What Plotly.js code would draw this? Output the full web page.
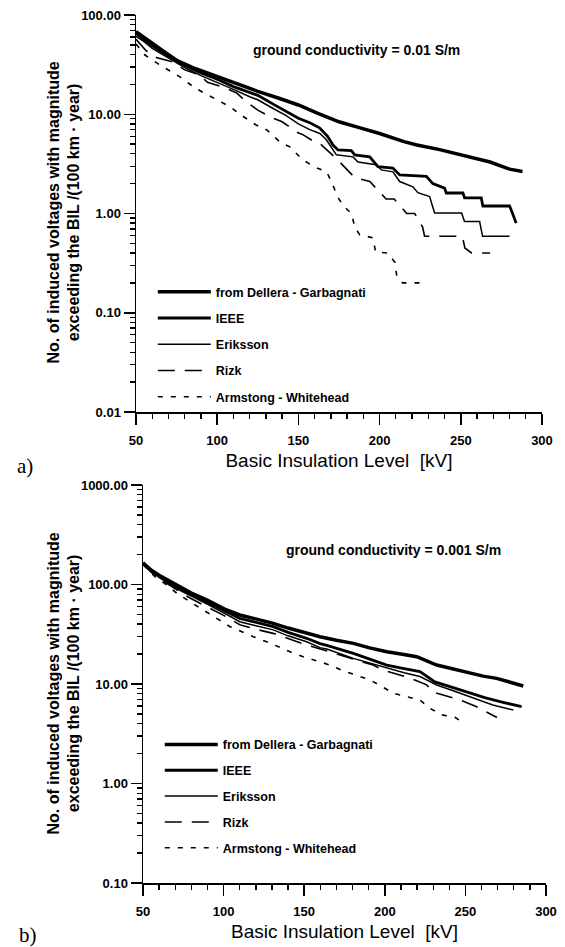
<!DOCTYPE html>
<html>
<head>
<meta charset="utf-8">
<script src="https://cdn.plot.ly/plotly-3.0.1.min.js"></script>
<style>
  html, body { margin: 0; padding: 0; background: #fff; }
  #chart { width: 565px; height: 947px; }
</style>
</head>
<body>
<div id="chart"></div>
<script>
// ---------- labels ----------
const seriesNames = ['from Dellera - Garbagnati', 'IEEE', 'Eriksson', 'Rizk', 'Armstong - Whitehead'];
const xTitle = 'Basic Insulation Level\u00a0 [kV]';
const yTitle = 'No. of induced voltages with magnitude<br>exceeding the BIL /(100 km \u00b7 year)';
const noteA = 'ground conductivity = 0.01 S/m';
const noteB = 'ground conductivity = 0.001 S/m';

// ---------- tick values ----------
const xMinorTicks = [60, 70, 80, 90, 110, 120, 130, 140, 160, 170, 180, 190, 210, 220, 230, 240, 260, 270, 280, 290];
const yMinorA = [0.02, 0.03, 0.04, 0.05, 0.06, 0.07, 0.08, 0.09, 0.2, 0.3, 0.4, 0.5, 0.6, 0.7, 0.8, 0.9,
                 2, 3, 4, 5, 6, 7, 8, 9, 20, 30, 40, 50, 60, 70, 80, 90];
const yMinorB = [0.2, 0.3, 0.4, 0.5, 0.6, 0.7, 0.8, 0.9, 2, 3, 4, 5, 6, 7, 8, 9,
                 20, 30, 40, 50, 60, 70, 80, 90, 200, 300, 400, 500, 600, 700, 800, 900];

// ---------- panel a) ground conductivity 0.01 S/m ----------
const dgA_x = [50, 55, 60, 68, 75, 85, 100, 112, 125, 138, 150, 162, 175, 188, 200, 215, 223, 237, 250, 268, 280, 288];
const dgA_y = [68, 59, 52, 42, 35, 29.5, 24, 20.2, 17, 14.5, 12.4, 10.2, 8.4, 7.3, 6.4, 5.3, 4.9, 4.4, 3.9, 3.3, 2.8, 2.65];

const ieeeA_x = [50, 55, 60, 70, 80, 90, 100, 110, 120, 125, 135, 142, 150, 157, 163, 168, 171.3, 174.4, 182.6, 184.7, 193.9, 199, 208.2, 212.4, 228.8, 232.8, 240, 241.1, 251.3, 252.3, 262.6, 263.6, 280, 281, 284.1];
const ieeeA_y = [65, 57, 49, 38.5, 31, 26, 22.5, 19, 16.5, 15.5, 12.5, 10.8, 9.1, 8.2, 7.3, 6.0, 4.9, 4.37, 4.3, 3.89, 3.73, 2.96, 2.87, 2.45, 2.37, 2.0, 1.8, 1.61, 1.61, 1.44, 1.44, 1.19, 1.19, 1.09, 0.80];

const erikA_x = [50, 55, 60, 70, 80, 90, 100, 110, 120, 125, 135, 142, 150, 157, 163.2, 167, 173.4, 183.6, 186.7, 198, 201.1, 208.2, 212.4, 220.5, 223.6, 230.8, 232.7, 233.9, 250.5, 252.3, 261.6, 263.4, 280];
const erikA_y = [61, 54, 46, 36.5, 29.5, 24.5, 21, 17.8, 15, 14, 11.3, 9.8, 8.0, 7.0, 6.4, 5.6, 3.9, 3.72, 3.3, 3.1, 2.75, 2.63, 2.1, 1.86, 1.62, 1.48, 1.17, 1.01, 1.01, 0.83, 0.83, 0.59, 0.59];

const rizkA_x = [50, 56, 63, 73, 80, 89, 94, 105, 112, 118, 125, 134, 140, 149, 153, 158, 163, 169, 174, 181.6, 184.7, 194, 197, 204, 209, 216.7, 221.6, 226.5, 227.7, 251, 252.5, 256.6, 268];
const rizkA_y = [57, 44, 37, 33.5, 28, 25, 21, 18.4, 16.4, 13.3, 11, 9.2, 8.4, 6.6, 6.2, 5.5, 5.1, 4.2, 3.5, 2.6, 2.3, 2.1, 1.85, 1.4, 1.4, 1.0, 1.0, 0.73, 0.59, 0.59, 0.45, 0.40, 0.40];

const armA_x = [50, 55.5, 64.8, 77.1, 86.3, 97.4, 107.8, 118.9, 124, 130.6, 138.6, 144.7, 152.7, 160.1, 167.5, 171.2, 174.2, 177.3, 182.8, 184.7, 187.8, 195.8, 197.6, 205, 209.5, 210.5, 214.2, 226.5];
const armA_y = [51, 39.5, 31.3, 23.8, 18.4, 14.6, 11.9, 8.8, 7.8, 6.95, 5.26, 4.69, 3.47, 2.94, 2.62, 1.94, 1.47, 1.22, 0.99, 0.73, 0.61, 0.57, 0.41, 0.40, 0.32, 0.24, 0.20, 0.20];

// ---------- panel b) ground conductivity 0.001 S/m ----------
const dgB_x = [50, 55, 60, 68.8, 75, 80, 89.5, 95, 101.9, 110, 120, 130.8, 140, 151.5, 159.8, 170, 180.5, 190, 201.2, 210, 219.8, 232.2, 243, 252.9, 261, 269.4, 278, 285.9];
const dgB_y = [165, 140, 124, 103, 90, 82, 70, 63, 55.5, 49.4, 45, 40.7, 36.5, 32.3, 29.9, 27.5, 25.6, 23.2, 21.1, 20, 18.8, 15.5, 14, 12.8, 12, 11.4, 10.5, 9.55];

const ieeeB_x = [50, 55, 60, 68.8, 75, 80, 89.5, 100, 110, 120, 130.8, 140, 151.5, 159.8, 164, 180.5, 201.2, 212, 221.8, 231.1, 242, 252.9, 262, 271.5, 284.9];
const ieeeB_y = [164, 138, 121, 99, 87, 79, 67, 55, 45.7, 41.5, 37.7, 33, 28.8, 25.5, 24.5, 20.3, 15.5, 14.3, 13.3, 10.5, 9.2, 8.07, 7.3, 6.64, 5.91];

const erikB_x = [50, 55, 60, 68.8, 75, 80, 89.5, 100, 110, 120, 130.8, 140, 151.5, 159.8, 164, 180.5, 201.2, 212, 221.8, 232.2, 242, 252.9, 267, 279.7];
const erikB_y = [162, 136, 118, 95, 84, 76, 64, 52, 42.3, 38.5, 35, 30.5, 26.6, 23.2, 22.5, 18.1, 14.4, 13, 11.9, 9.78, 8.6, 7.45, 6.15, 5.48];

const rizkB_x = [50, 55, 60, 68.8, 75, 80, 89.5, 100, 110, 120, 130.8, 140, 151.5, 160, 166, 176.6, 182.8, 192.7, 199, 209.4, 215.6, 226, 230, 240.4, 246.7, 257, 263.4, 269.6];
const rizkB_y = [160, 133, 115, 92, 80, 72, 60, 49, 39.5, 35.5, 32.3, 28.5, 24.7, 22.5, 21, 18.7, 17.4, 15.5, 13.8, 12.3, 11.5, 9.8, 8.3, 7.4, 6.9, 5.9, 5.2, 4.6];

const armB_x = [50, 57.4, 64.7, 70.9, 79.2, 87.4, 95.7, 104, 118.4, 126.7, 141.2, 149.4, 159.8, 166, 174, 182.6, 190.8, 199, 205.3, 213.6, 221.8, 228, 235.3, 243.5, 249.7];
const armB_y = [158, 120, 99, 82, 67, 55.4, 45.7, 37.7, 29.9, 26.6, 21.1, 18.8, 16.7, 15.5, 13.6, 12.3, 11.0, 9.27, 8.06, 7.45, 6.9, 5.7, 4.9, 4.63, 3.96];

// ---------- styles ----------
const lineStyles = [
  {width: 3.5, dash: 'solid'},
  {width: 2.8, dash: 'solid'},
  {width: 1.5, dash: 'solid'},
  {width: 1.6, dash: '17px,10px'},
  {width: 1.6, dash: '5px,8px'}
];

const FONT = 'Arial, "Liberation Sans", Helvetica, sans-serif';

const panelA = [[dgA_x, dgA_y], [ieeeA_x, ieeeA_y], [erikA_x, erikA_y], [rizkA_x, rizkA_y], [armA_x, armA_y]];
const panelB = [[dgB_x, dgB_y], [ieeeB_x, ieeeB_y], [erikB_x, erikB_y], [rizkB_x, rizkB_y], [armB_x, armB_y]];

const traces = [];
panelA.forEach((s, i) => traces.push({
  type: 'scatter', mode: 'lines', x: s[0], y: s[1], name: seriesNames[i],
  xaxis: 'x', yaxis: 'y', legend: 'legend', legendgroup: 'a' + i,
  line: {color: '#000', width: lineStyles[i].width, dash: lineStyles[i].dash}
}));
panelB.forEach((s, i) => traces.push({
  type: 'scatter', mode: 'lines', x: s[0], y: s[1], name: seriesNames[i],
  xaxis: 'x2', yaxis: 'y2', legend: 'legend2', legendgroup: 'b' + i,
  line: {color: '#000', width: lineStyles[i].width, dash: lineStyles[i].dash}
}));

function xAxis(domain, anchor) {
  return {
    domain: domain, anchor: anchor, range: [50, 300], tick0: 50, dtick: 50,
    showline: true, linecolor: '#000', linewidth: 1.5, mirror: false,
    ticks: 'outside', ticklen: 11, tickwidth: 1.5, tickcolor: '#000',
    ticklabelstandoff: 5,
    minor: {ticks: 'outside', ticklen: 5, tickwidth: 1.3, tickcolor: '#000',
            tickmode: 'array', tickvals: xMinorTicks, showgrid: false},
    showgrid: false, zeroline: false, fixedrange: true,
    tickfont: {family: FONT, size: 13, color: '#000', weight: 'bold'},
    title: {text: xTitle, font: {family: FONT, size: 19, color: '#000'}, standoff: 6}
  };
}
function yAxis(domain, anchor, range, minorVals) {
  return {
    domain: domain, anchor: anchor, type: 'log', range: range, dtick: 1, tickformat: '.2f',
    showline: true, linecolor: '#000', linewidth: 1.5, mirror: false,
    ticks: 'outside', ticklen: 11, tickwidth: 1.5, tickcolor: '#000',
    minor: {ticks: 'outside', ticklen: 5, tickwidth: 1.3, tickcolor: '#000',
            tickmode: 'array', tickvals: minorVals, showgrid: false},
    showgrid: false, zeroline: false, fixedrange: true,
    tickfont: {family: FONT, size: 13, color: '#000', weight: 'bold'}
  };
}

const legendBase = {
  bgcolor: 'rgba(0,0,0,0)', borderwidth: 0, xanchor: 'left', yanchor: 'top',
  tracegroupgap: 7, itemwidth: 53,
  font: {family: FONT, size: 12.5, color: '#000', weight: 'bold'}
};

const layout = {
  width: 565, height: 947,
  margin: {l: 136, r: 19, t: 15, b: 64},
  paper_bgcolor: '#fff', plot_bgcolor: '#fff',
  showlegend: true,
  xaxis: xAxis([0, 0.9902], 'y'),
  yaxis: yAxis([0.5426, 1], 'x', [-2, 2], yMinorA),
  xaxis2: xAxis([0.0171, 1], 'y2'),
  yaxis2: yAxis([0, 0.4585], 'x2', [-1, 3], yMinorB),
  legend: Object.assign({x: 0.041, y: 0.698}, legendBase),
  legend2: Object.assign({x: 0.058, y: 0.1765, tracegroupgap: 6.6}, legendBase, {tracegroupgap: 6.6}),
  annotations: [
    {text: noteA, xref: 'paper', yref: 'paper', x: 0.539, y: 0.9597, xanchor: 'center', yanchor: 'middle',
     showarrow: false, font: {family: FONT, size: 14, color: '#000', weight: 'bold'}},
    {text: noteB, xref: 'paper', yref: 'paper', x: 0.629, y: 0.3836, xanchor: 'center', yanchor: 'middle',
     showarrow: false, font: {family: FONT, size: 14, color: '#000', weight: 'bold'}},
    {text: yTitle, xref: 'paper', yref: 'paper', x: -0.1768, y: 0.7719, xanchor: 'center', yanchor: 'middle',
     textangle: -90, showarrow: false, font: {family: FONT, size: 16, color: '#000', weight: 'bold'}},
    {text: yTitle, xref: 'paper', yref: 'paper', x: -0.1768, y: 0.2293, xanchor: 'center', yanchor: 'middle',
     textangle: -90, showarrow: false, font: {family: FONT, size: 16, color: '#000', weight: 'bold'}},
    {text: 'a)', xref: 'paper', yref: 'paper', x: -0.295, y: 0.4804, xanchor: 'left', yanchor: 'middle',
     showarrow: false, font: {family: '"Liberation Serif", "Times New Roman", serif', size: 21, color: '#000'}},
    {text: 'b)', xref: 'paper', yref: 'paper', x: -0.29, y: -0.0599, xanchor: 'left', yanchor: 'middle',
     showarrow: false, font: {family: '"Liberation Serif", "Times New Roman", serif', size: 21, color: '#000'}}
  ]
};

Plotly.newPlot('chart', traces, layout, {displayModeBar: false, staticPlot: true});
</script>
</body>
</html>
